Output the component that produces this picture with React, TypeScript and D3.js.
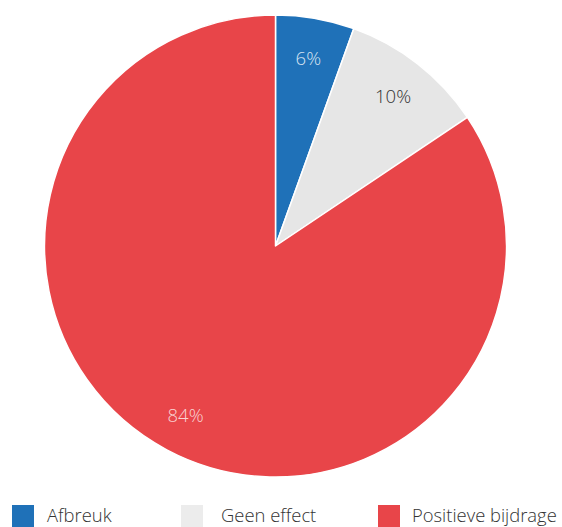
import React, { useEffect, useRef } from 'react';
import * as d3 from 'd3';

const categories = ['Afbreuk', 'Geen effect', 'Positieve bijdrage'];
const values = [5.5, 10.1, 84.4];
const labels = ['6%', '10%', '84%'];
const colors = ['#1f71b8', '#e6e6e6', '#e84549'];
const labelColors = ['#d6e3f1', '#333333', '#f9d2d3'];

const App: React.FC = () => {
  const svgRef = useRef<SVGSVGElement>(null);

  useEffect(() => {
    if (!svgRef.current) return;
    const width = 562;
    const height = 527;
    const cx = 275.5;
    const cy = 246;
    const radius = 231;

    const svg = d3.select(svgRef.current);
    svg.selectAll('*').remove();
    svg.attr('width', width).attr('height', height);

    const data = categories.map((c, i) => ({ name: c, value: values[i], i }));

    const pie = d3.pie<any>().sort(null).value((d) => d.value);
    const arcs = pie(data);

    const arc = d3.arc<any>().innerRadius(0).outerRadius(radius);
    const labelArc = d3.arc<any>().innerRadius(191).outerRadius(191);

    const g = svg.append('g').attr('transform', `translate(${cx},${cy})`);

    g.selectAll('path')
      .data(arcs)
      .enter()
      .append('path')
      .attr('d', arc as any)
      .attr('fill', (d: any) => colors[d.data.i])
      .attr('stroke', '#ffffff')
      .attr('stroke-width', 1.5)
      .attr('stroke-linejoin', 'round');

    g.selectAll('text.lbl')
      .data(arcs)
      .enter()
      .append('text')
      .attr('class', 'lbl')
      .attr('transform', (d: any) => `translate(${labelArc.centroid(d)})`)
      .attr('text-anchor', 'middle')
      .attr('dominant-baseline', 'central')
      .style('font-family', '"Open Sans", sans-serif')
      .style('font-weight', 300)
      .style('font-size', '18.5px')
      .style('fill', (d: any) => labelColors[d.data.i])
      .text((d: any) => labels[d.data.i]);

    // Legend
    const squareX = [12, 181, 378];
    const textX = [47, 221, 412];
    const legend = svg.append('g');
    categories.forEach((c, i) => {
      legend.append('rect')
        .attr('x', squareX[i])
        .attr('y', 505)
        .attr('width', 22)
        .attr('height', 22)
        .attr('fill', colors[i] === '#e6e6e6' ? '#ececec' : colors[i]);
      legend.append('text')
        .attr('x', textX[i])
        .attr('y', 522)
        .style('font-family', '"Open Sans", sans-serif')
        .style('font-weight', 300)
        .style('font-size', '18.4px')
        .style('fill', '#333333')
        .text(c);
    });
  }, []);

  return (
    <div style={{ position: 'absolute', left: 0, top: 0 }}>
      <svg ref={svgRef} style={{ display: 'block' }}></svg>
    </div>
  );
};

export default App;
